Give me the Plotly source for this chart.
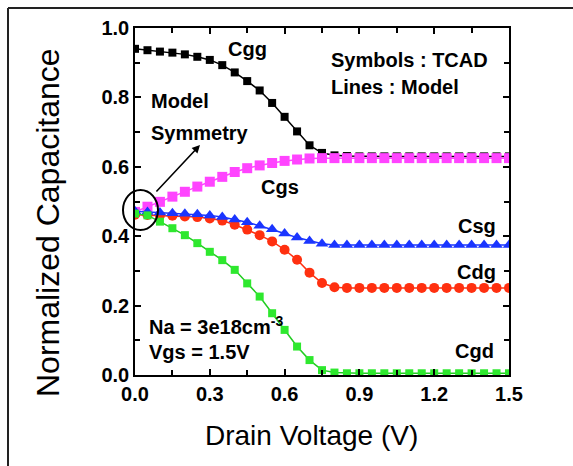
import plotly.graph_objects as go

# ---------------- data ----------------
vd = [0.0, 0.05, 0.1, 0.15, 0.2, 0.25, 0.3, 0.35, 0.4, 0.45, 0.5, 0.55, 0.6, 0.65, 0.7,
      0.75, 0.8, 0.85, 0.9, 0.95, 1.0, 1.05, 1.1, 1.15, 1.2, 1.25, 1.3, 1.35, 1.4, 1.45, 1.5]

cgg = [0.94, 0.936, 0.932, 0.929, 0.924, 0.917, 0.908, 0.893, 0.872, 0.847, 0.82, 0.784,
       0.744, 0.702, 0.662, 0.64, 0.633, 0.631, 0.63, 0.63, 0.63, 0.63, 0.63, 0.63, 0.63,
       0.63, 0.63, 0.63, 0.63, 0.63, 0.63]
cgs = [0.47, 0.485, 0.499, 0.514, 0.528, 0.543, 0.557, 0.571, 0.585, 0.596, 0.604, 0.611,
       0.617, 0.621, 0.624, 0.625, 0.625, 0.625, 0.625, 0.625, 0.625, 0.625, 0.625, 0.625,
       0.625, 0.625, 0.625, 0.625, 0.625, 0.625, 0.625]
csg = [0.472, 0.470, 0.468, 0.466, 0.465, 0.463, 0.46, 0.455, 0.448, 0.44, 0.43, 0.42,
       0.408, 0.396, 0.386, 0.378, 0.375, 0.375, 0.375, 0.375, 0.375, 0.375, 0.375, 0.375,
       0.375, 0.375, 0.375, 0.375, 0.375, 0.375, 0.375]
cdg = [0.462, 0.461, 0.46, 0.459, 0.457, 0.455, 0.451, 0.445, 0.433, 0.419, 0.403, 0.385,
       0.361, 0.332, 0.295, 0.265, 0.253, 0.251, 0.251, 0.251, 0.251, 0.251, 0.251, 0.251,
       0.251, 0.251, 0.251, 0.251, 0.251, 0.251, 0.251]
cgd = [0.465, 0.46, 0.442, 0.423, 0.403, 0.38, 0.355, 0.331, 0.303, 0.264, 0.226, 0.178,
       0.13, 0.082, 0.043, 0.014, 0.007, 0.005, 0.005, 0.005, 0.005, 0.005, 0.005, 0.005,
       0.005, 0.005, 0.005, 0.005, 0.005, 0.005, 0.005]

x_ticks = [0.0, 0.3, 0.6, 0.9, 1.2, 1.5]
x_tick_labels = ["0.0", "0.3", "0.6", "0.9", "1.2", "1.5"]
y_ticks = [0.0, 0.2, 0.4, 0.6, 0.8, 1.0]
y_tick_labels = ["0.0", "0.2", "0.4", "0.6", "0.8", "1.0"]

# ---------------- layout geometry ----------------
W, H = 573, 466
L, R, T, B = 135, 509, 28, 375  # plot area in pixels


def px(x):
    return (x - L) / (R - L)


def py(y):
    return (B - y) / (B - T)


FONT = "Liberation Sans, Arial, sans-serif"

series = [
    ("Cgg", cgg, "#000000", "#000000", "square", 8),
    ("Cgs", cgs, "#ff44ff", "#ff44ff", "square", 10),
    ("Cdg", cdg, "#ff3010", "#ff3010", "circle", 10),
    ("Csg", csg, "#1a35ff", "#1a35ff", "triangle-up", 11),
    ("Cgd", cgd, "#2ee82e", "#22cc22", "square", 8),
]

fig = go.Figure()
for name, ys, mcol, lcol, sym, size in series:
    fig.add_trace(go.Scatter(
        x=vd, y=ys, name=name, mode="lines+markers",
        line=dict(color=lcol, width=1.5),
        marker=dict(color=mcol, symbol=sym, size=size, line=dict(width=0)),
        showlegend=False,
    ))

axis_common = dict(
    showline=True, linecolor="black", linewidth=1.5, mirror="ticks",
    ticks="inside", ticklen=6, tickwidth=1.5, tickcolor="black",
    showgrid=False, zeroline=False,
    tickfont=dict(family=FONT, size=20, color="black", weight="bold"),
)

fig.update_xaxes(range=[0, 1.5], tickvals=x_ticks, ticktext=x_tick_labels,
                 minor=dict(dtick=0.15, ticks="inside", ticklen=5, tickwidth=1.5, tickcolor="black"),
                 **axis_common)
fig.update_yaxes(range=[0, 1.0], tickvals=y_ticks, ticktext=y_tick_labels,
                 minor=dict(dtick=0.1, ticks="inside", ticklen=5, tickwidth=1.5, tickcolor="black"),
                 **axis_common)

bold = dict(family=FONT, size=20, color="black", weight="bold")
labels = [
    ("Cgg", 247, 49, "center"),
    ("Cgs", 280, 187, "center"),
    ("Csg", 477, 226, "center"),
    ("Cdg", 476, 272, "center"),
    ("Cgd", 474, 351, "center"),
    ("Symbols : TCAD", 329, 60, "left"),
    ("Lines : Model", 329, 87, "left"),
    ("Model", 149, 101, "left"),
    ("Symmetry", 149, 133, "left"),
    ("Na = 3e18cm<sup>-3</sup>", 147, 325, "left"),
    ("Vgs = 1.5V", 147, 352, "left"),
]
for text, x, y, anc in labels:
    fig.add_annotation(x=px(x), y=py(y), xref="paper", yref="paper", text=text,
                       showarrow=False, xanchor=anc, yanchor="middle", font=bold)

# arrow from circle to "Model Symmetry"
fig.add_annotation(x=px(200), y=py(145), xref="paper", yref="paper", text="",
                   showarrow=True, ax=155 - 200, ay=193 - 145, axref="pixel", ayref="pixel",
                   arrowhead=2, arrowsize=1, arrowwidth=1.6, arrowcolor="black")

# axis titles
fig.add_annotation(x=px(311), y=py(435), xref="paper", yref="paper",
                   text="Drain Voltage (V)", showarrow=False,
                   xanchor="center", yanchor="middle",
                   font=dict(family=FONT, size=28, color="black"))
fig.add_annotation(x=px(48), y=py(223), xref="paper", yref="paper",
                   text="Normalized Capacitance", showarrow=False, textangle=-90,
                   xanchor="center", yanchor="middle",
                   font=dict(family=FONT, size=32, color="black"))

# ellipse
fig.add_shape(type="circle", xref="paper", yref="paper",
              x0=px(123), x1=px(158), y0=py(230), y1=py(190),
              line=dict(color="black", width=2))
# outer frame (top and left)
fig.add_shape(type="line", xref="paper", yref="paper",
              x0=px(8), x1=px(573), y0=py(8), y1=py(8), line=dict(color="#222", width=2))
fig.add_shape(type="line", xref="paper", yref="paper",
              x0=px(8), x1=px(8), y0=py(8), y1=py(466), line=dict(color="#222", width=2))

fig.update_layout(
    width=W, height=H, autosize=False,
    margin=dict(l=L, r=W - R, t=T, b=H - B, pad=0),
    plot_bgcolor="white", paper_bgcolor="white",
)

fig.write_html("out.html", config={"displayModeBar": False},
               post_script="document.body.style.margin='0';document.body.style.padding='0';")
